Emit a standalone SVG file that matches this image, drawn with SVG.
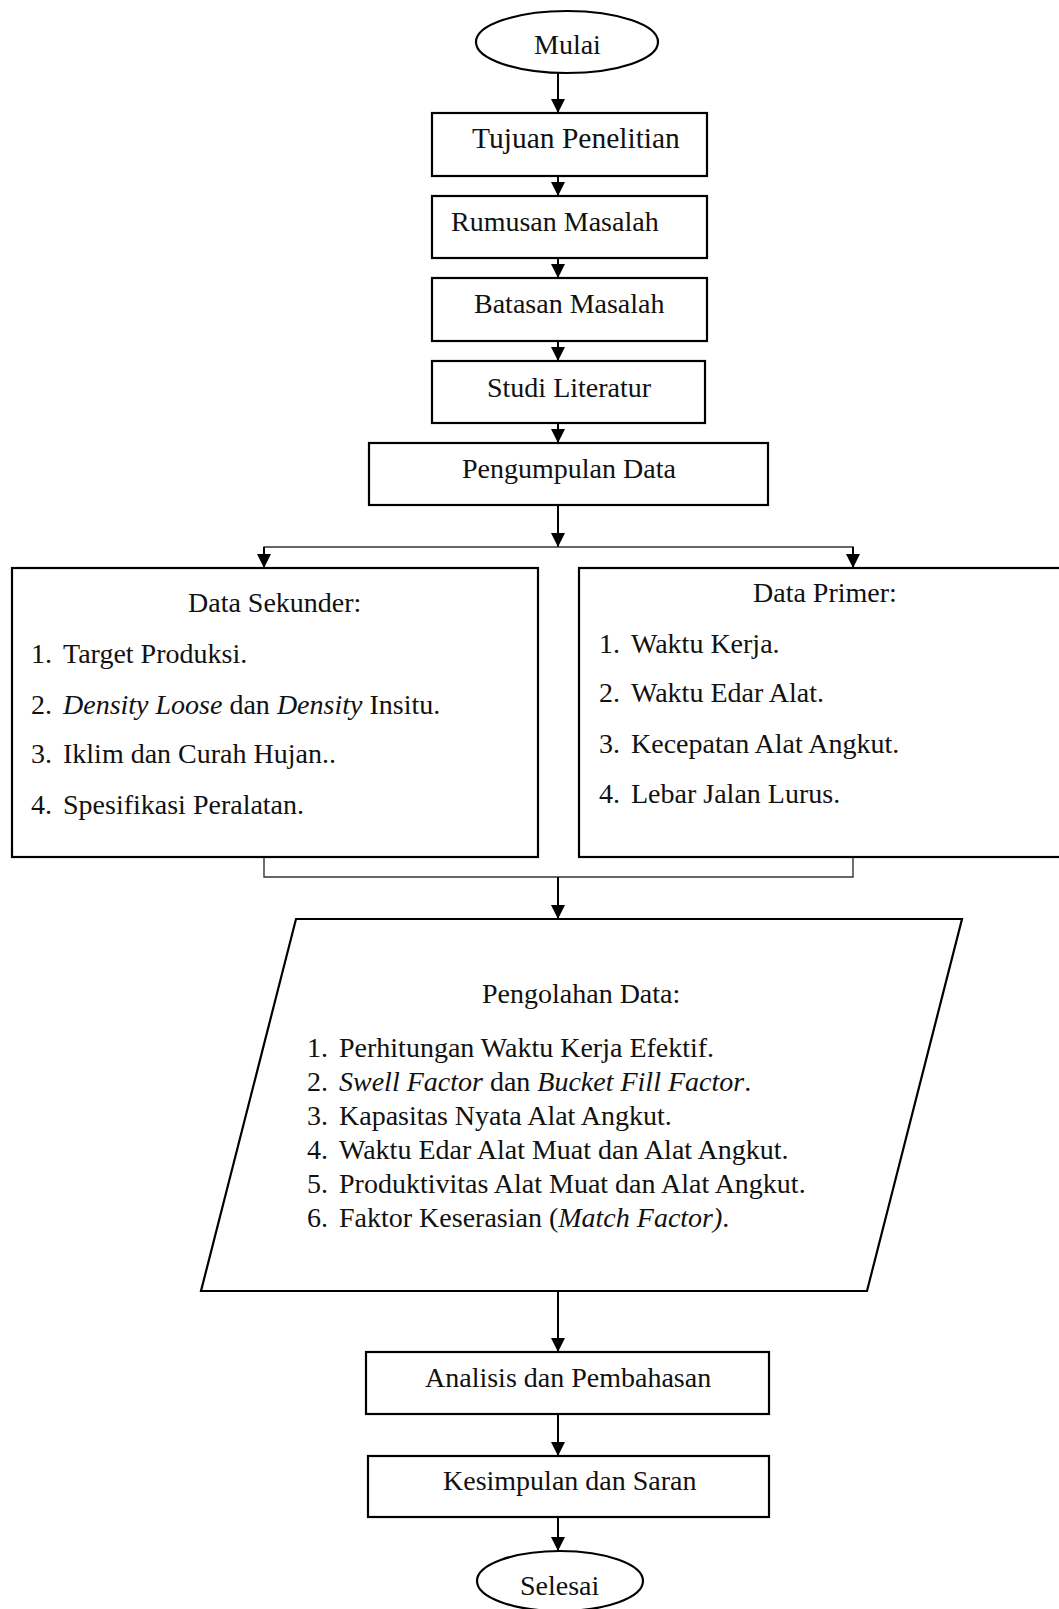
<svg xmlns="http://www.w3.org/2000/svg" width="1059" height="1609" viewBox="0 0 1059 1609">
<style>
  .shape { fill: #ffffff; stroke: #000000; stroke-width: 2.2; }
  .conn { fill: none; stroke: #000000; stroke-width: 2; }
  .thin { fill: none; stroke: #333333; stroke-width: 1.4; }
  text { font-family: "Liberation Serif", "Times New Roman", serif; font-size: 28px; fill: #111111; }
  .it { font-style: italic; }
</style>
<defs>
  <marker id="arr" markerUnits="userSpaceOnUse" markerWidth="14" markerHeight="14" refX="14" refY="7" orient="auto">
    <path d="M0,0 L14,7 L0,14 z" fill="#000000"/>
  </marker>
</defs>
<rect width="1059" height="1609" fill="#ffffff"/>

<g id="connectors">
  <line class="conn" x1="558" y1="73" x2="558" y2="113" marker-end="url(#arr)"/>
  <line class="conn" x1="558" y1="176" x2="558" y2="196" marker-end="url(#arr)"/>
  <line class="conn" x1="558" y1="258" x2="558" y2="278" marker-end="url(#arr)"/>
  <line class="conn" x1="558" y1="341" x2="558" y2="361" marker-end="url(#arr)"/>
  <line class="conn" x1="558" y1="423" x2="558" y2="443" marker-end="url(#arr)"/>
  <line class="conn" x1="558" y1="505" x2="558" y2="547" marker-end="url(#arr)"/>
  <polyline class="thin" points="264,568 264,547 853,547 853,568"/>
  <line class="conn" x1="264" y1="547" x2="264" y2="568" marker-end="url(#arr)"/>
  <line class="conn" x1="853" y1="547" x2="853" y2="568" marker-end="url(#arr)"/>
  <polyline class="thin" points="264,857 264,877 853,877 853,857"/>
  <line class="conn" x1="558" y1="877" x2="558" y2="919" marker-end="url(#arr)"/>
  <line class="conn" x1="558" y1="1291" x2="558" y2="1352" marker-end="url(#arr)"/>
  <line class="conn" x1="558" y1="1414" x2="558" y2="1456" marker-end="url(#arr)"/>
  <line class="conn" x1="558" y1="1517" x2="558" y2="1551" marker-end="url(#arr)"/>
</g>

<g id="mulai">
  <ellipse class="shape" cx="567" cy="42" rx="91" ry="31"/>
  <text x="534" y="54">Mulai</text>
</g>

<g id="tujuan">
  <rect class="shape" x="432" y="113" width="275" height="63"/>
  <text x="472" y="148" style="font-size:29.5px">Tujuan Penelitian</text>
</g>

<g id="rumusan">
  <rect class="shape" x="432" y="196" width="275" height="62"/>
  <text x="451" y="231">Rumusan Masalah</text>
</g>

<g id="batasan">
  <rect class="shape" x="432" y="278" width="275" height="63"/>
  <text x="474" y="313">Batasan Masalah</text>
</g>

<g id="studi">
  <rect class="shape" x="432" y="361" width="273" height="62"/>
  <text x="487" y="397">Studi Literatur</text>
</g>

<g id="pengumpulan">
  <rect class="shape" x="369" y="443" width="399" height="62"/>
  <text x="462" y="478">Pengumpulan Data</text>
</g>

<g id="data-sekunder">
  <rect class="shape" x="12" y="568" width="526" height="289"/>
  <text x="188" y="612">Data Sekunder:</text>
  <text x="31" y="663">1.</text><text x="63" y="663">Target Produksi.</text>
  <text x="31" y="714">2.</text><text x="63" y="714"><tspan class="it">Density Loose</tspan> dan <tspan class="it">Density</tspan> Insitu.</text>
  <text x="31" y="763">3.</text><text x="63" y="763">Iklim dan Curah Hujan..</text>
  <text x="31" y="814">4.</text><text x="63" y="814">Spesifikasi Peralatan.</text>
</g>

<g id="data-primer">
  <rect class="shape" x="579" y="568" width="490" height="289"/>
  <text x="753" y="602">Data Primer:</text>
  <text x="599" y="653">1.</text><text x="631" y="653">Waktu Kerja.</text>
  <text x="599" y="702">2.</text><text x="631" y="702">Waktu Edar Alat.</text>
  <text x="599" y="753">3.</text><text x="631" y="753">Kecepatan Alat Angkut.</text>
  <text x="599" y="803">4.</text><text x="631" y="803">Lebar Jalan Lurus.</text>
</g>

<g id="pengolahan">
  <polygon class="shape" points="296,919 962,919 867,1291 201,1291"/>
  <text x="482" y="1003">Pengolahan Data:</text>
  <text x="307" y="1057">1.</text><text x="339" y="1057">Perhitungan Waktu Kerja Efektif.</text>
  <text x="307" y="1091">2.</text><text x="339" y="1091"><tspan class="it">Swell Factor</tspan> dan <tspan class="it">Bucket Fill Factor</tspan>.</text>
  <text x="307" y="1125">3.</text><text x="339" y="1125">Kapasitas Nyata Alat Angkut.</text>
  <text x="307" y="1159">4.</text><text x="339" y="1159">Waktu Edar Alat Muat dan Alat Angkut.</text>
  <text x="307" y="1193">5.</text><text x="339" y="1193">Produktivitas Alat Muat dan Alat Angkut.</text>
  <text x="307" y="1227">6.</text><text x="339" y="1227">Faktor Keserasian (<tspan class="it">Match Factor)</tspan>.</text>
</g>

<g id="analisis">
  <rect class="shape" x="366" y="1352" width="403" height="62"/>
  <text x="425" y="1387">Analisis dan Pembahasan</text>
</g>

<g id="kesimpulan">
  <rect class="shape" x="368" y="1456" width="401" height="61"/>
  <text x="443" y="1490">Kesimpulan dan Saran</text>
</g>

<g id="selesai">
  <ellipse class="shape" cx="560" cy="1581" rx="83" ry="30"/>
  <text x="520" y="1595">Selesai</text>
</g>
</svg>
